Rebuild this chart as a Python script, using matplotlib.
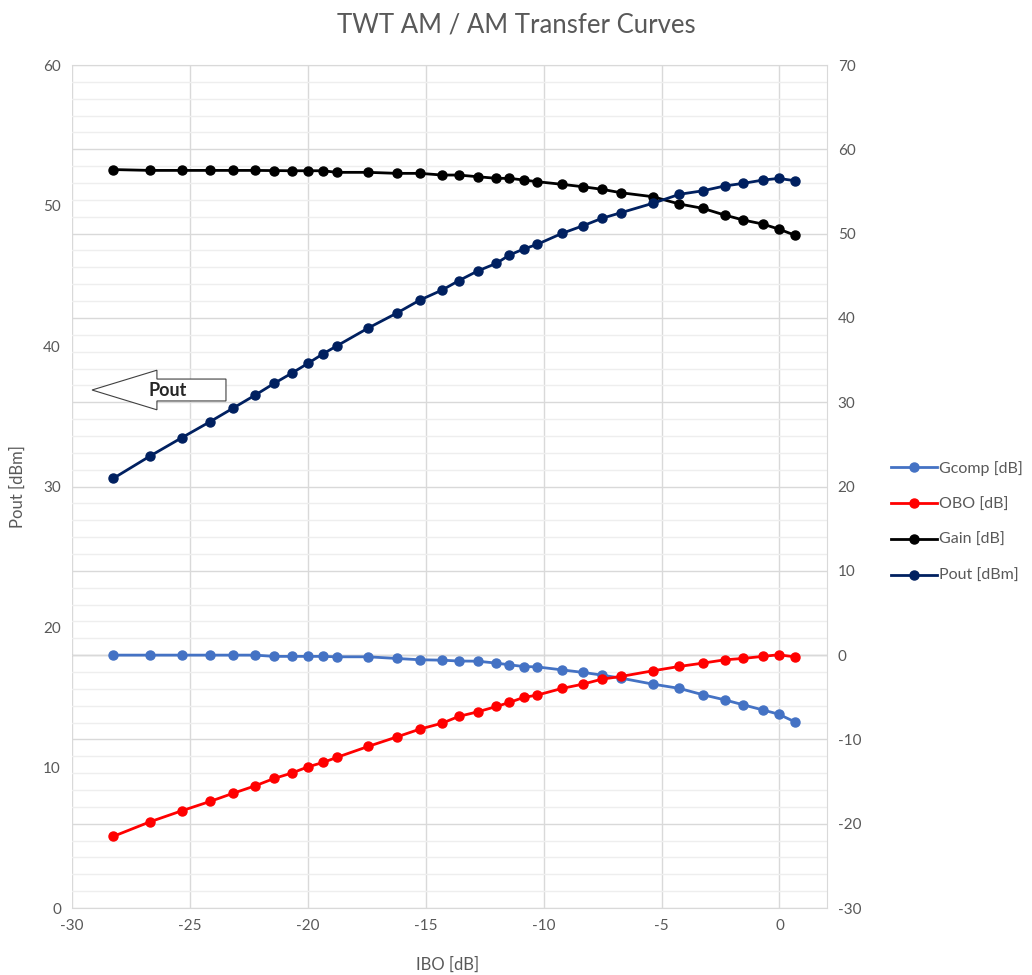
import numpy as np
import matplotlib.pyplot as plt
from matplotlib.patches import FancyArrow
from matplotlib.ticker import MultipleLocator

plt.rcParams['font.family'] = ['Lato', 'DejaVu Sans']
plt.rcParams['axes.unicode_minus'] = False

# IBO [dB]
ibo = [-28.25, -26.69, -25.35, -24.15, -23.19, -22.23, -21.43, -20.69, -19.99, -19.35,
       -18.78, -17.44, -16.22, -15.25, -14.30, -13.60, -12.80, -12.00, -11.45, -10.85,
       -10.27, -9.22, -8.33, -7.53, -6.72, -5.37, -4.24, -3.25, -2.33, -1.53,
       -0.71, -0.04, 0.64]

# eje derecho
gcomp = [0.0, 0.0, 0.0, 0.0, 0.0, 0.0, -0.15, -0.15, -0.15, -0.15,
         -0.2, -0.2, -0.4, -0.55, -0.6, -0.7, -0.72, -0.95, -1.15, -1.35,
         -1.4, -1.75, -2.05, -2.37, -2.73, -3.44, -3.95, -4.7, -5.3, -5.9,
         -6.5, -7.0, -7.9]
obo = [-21.5, -19.77, -18.47, -17.36, -16.41, -15.5, -14.63, -14.0, -13.25, -12.73,
       -12.14, -10.83, -9.7, -8.78, -8.07, -7.27, -6.73, -6.09, -5.61, -5.02,
       -4.74, -3.95, -3.44, -2.85, -2.53, -1.86, -1.34, -0.95, -0.56, -0.39,
       -0.15, 0.04, -0.2]
gain = [57.6, 57.5, 57.5, 57.5, 57.5, 57.5, 57.48, 57.46, 57.46, 57.46,
        57.27, 57.27, 57.15, 57.15, 56.95, 56.95, 56.75, 56.56, 56.56, 56.36,
        56.16, 55.85, 55.56, 55.26, 54.85, 54.38, 53.51, 53.0, 52.21, 51.61,
        51.14, 50.55, 49.83]

# eje izquierdo
pout = [30.58, 32.17, 33.47, 34.61, 35.56, 36.51, 37.34, 38.06, 38.77, 39.45,
        40.0, 41.28, 42.35, 43.27, 43.99, 44.65, 45.34, 45.89, 46.48, 46.9,
        47.24, 48.02, 48.56, 49.09, 49.49, 50.16, 50.8, 51.05, 51.39, 51.58,
        51.81, 51.93, 51.77]

gris = "#595959"

fig = plt.figure(figsize=(10.32, 9.75), dpi=100)
ax = fig.add_axes([0.0698, 0.0687, 0.7312, 0.8646])
ax2 = ax.twinx()

# ax encima para que Pout quede sobre las demas curvas
ax.set_zorder(ax2.get_zorder() + 1)
ax.patch.set_visible(False)

ax.set_xlim(-30, 2)
ax.set_ylim(0, 60)
ax2.set_ylim(-30, 70)
ax.xaxis.set_major_locator(MultipleLocator(5))
ax.yaxis.set_major_locator(MultipleLocator(10))
ax2.yaxis.set_major_locator(MultipleLocator(10))
ax2.yaxis.set_minor_locator(MultipleLocator(2))

# rejilla
ax2.grid(which="major", axis="y", color="#d9d9d9", lw=1.0, zorder=0)
ax2.grid(which="minor", axis="y", color="#eeeeee", lw=1.0, zorder=0)
for xt in np.arange(-30, 1, 5):
    ax2.axvline(xt, color="#d9d9d9", lw=1.0, zorder=0)
ax2.axhline(0, color="#c8c8c8", lw=1.0, zorder=0.5)
ax2.set_axisbelow(True)

for a in (ax, ax2):
    for s in a.spines.values():
        s.set_visible(False)
for s in ("right", "bottom", "top"):
    ax2.spines[s].set_visible(True)
    ax2.spines[s].set_color("#d9d9d9")

ax.tick_params(axis="both", which="both", length=0, colors=gris, labelsize=11, pad=8)
ax2.tick_params(axis="y", which="both", length=0, colors=gris, labelsize=11, pad=8)

estilo = dict(marker="o", markersize=6.5, lw=2)
l1, = ax2.plot(ibo, gcomp, color="#4472c4", label="Gcomp [dB]", **estilo)
l2, = ax2.plot(ibo, obo, color="#ff0000", label="OBO [dB]", **estilo)
l3, = ax2.plot(ibo, gain, color="#000000", label="Gain [dB]", **estilo)
l4, = ax.plot(ibo, pout, color="#002060", label="Pout [dBm]", **estilo)

fig.text(0.5, 0.967, "TWT AM / AM Transfer Curves", color=gris, fontsize=18.5,
         ha="center", va="baseline")
fig.text(448 / 1032, 1 - 965 / 975, "IBO [dB]", color=gris, fontsize=12,
         ha="center", va="center")
fig.text(18 / 1032, 1 - 487 / 975, "Pout [dBm]", color=gris, fontsize=12,
         rotation=90, ha="center", va="center")

fig.legend(handles=[l1, l2, l3, l4], loc="center left", bbox_to_anchor=(0.849, 0.4646),
           frameon=False, fontsize=11.5, handlelength=2.9, labelspacing=1.35,
           handletextpad=0.15, labelcolor=gris)

# flecha hueca con el texto Pout
flecha = FancyArrow(0.204, 0.6145, -0.1775, 0, width=0.026, head_width=0.047,
                    head_length=0.086, length_includes_head=True,
                    transform=ax.transAxes, facecolor="white", edgecolor="#404040",
                    lw=0.8, zorder=5)
ax.add_patch(flecha)
ax.text(0.127, 0.6145, "Pout", transform=ax.transAxes, fontsize=13, fontweight="bold",
        color="#262626", ha="center", va="center", zorder=6)

fig.savefig("out.png", dpi=100)
